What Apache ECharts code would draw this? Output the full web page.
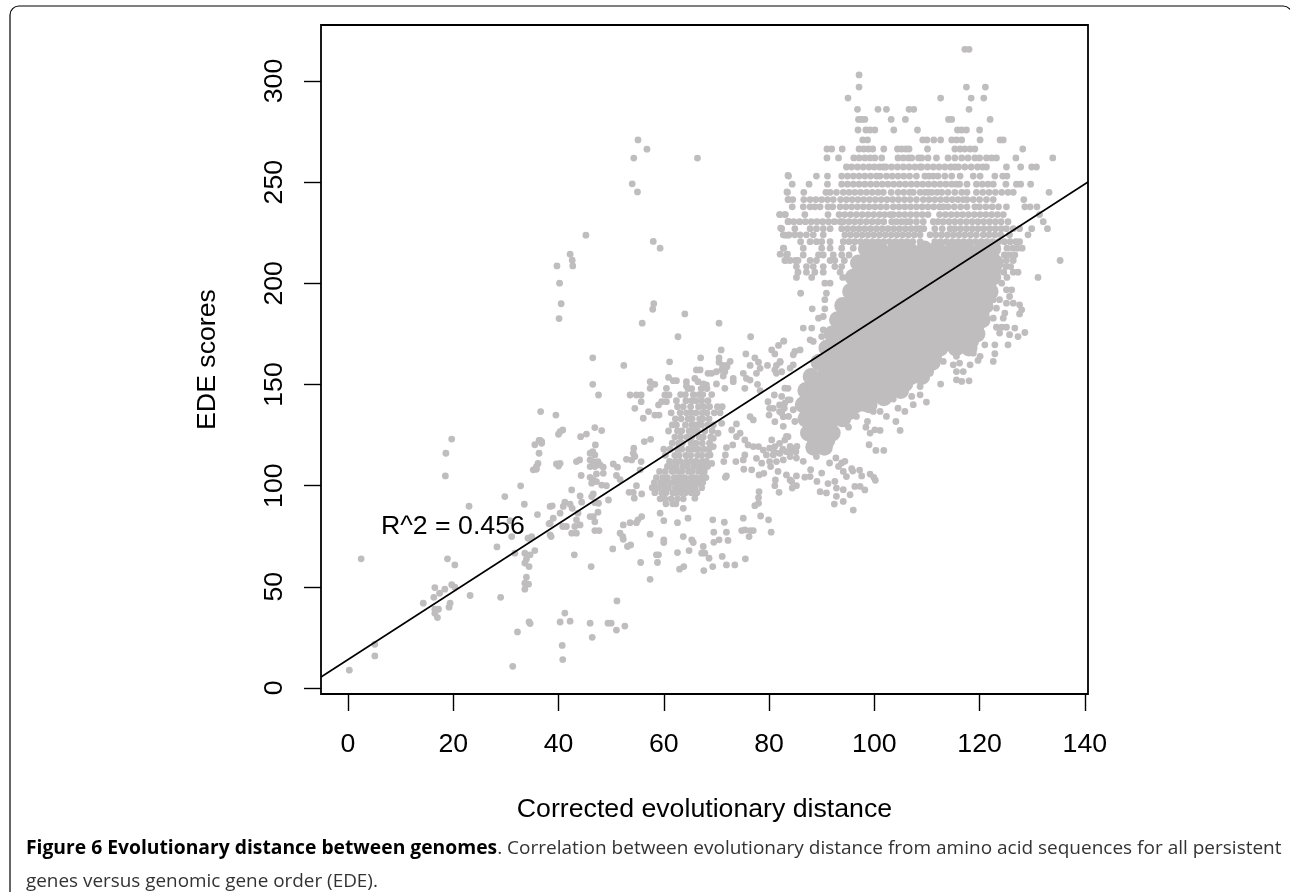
<!DOCTYPE html>
<html>
<head>
<meta charset="utf-8">
<style>html,body{margin:0;padding:0;background:#fff}#chart{width:1290px;height:892px}</style>
<script src="https://cdn.jsdelivr.net/npm/echarts@6/dist/echarts.min.js"></script>
</head>
<body>
<div id="chart"></div>
<script>
const xTicks = [0, 20, 40, 60, 80, 100, 120, 140];
const yTicks = [0, 50, 100, 150, 200, 250, 300];
const fitLine = [[-5.13, 5.4], [140.6, 250.1]];

// scores sit on discrete levels up here: [score, [distances]]
const upperRows = [
  [315.7, [117.2, 118]],
  [303, [97.1]],
  [297, [97.1, 117.5, 121.1]],
  [291.6, [95, 112.6, 118.4, 120.8]],
  [286, [96.8, 100.7, 102.3, 106.6, 107.5, 118]],
  [281, [97, 97.6, 98.2, 103.2, 105.9, 114.1, 114.7, 122]],
  [275.8, [96.9, 98.4, 99.2, 100.1, 103.7, 108.2, 115.8, 116.6, 117.5, 120]],
  [270.9, [97.8, 98.7, 109.2, 110, 111.3, 112.6, 114.7, 115.6, 116.6, 120.1, 123.9, 124.5]],
  [266.4, [91, 91.9, 93.9, 97.1, 98, 98.9, 99.7, 101.8, 104.4, 105.2, 106, 106.6, 110.1, 115.3, 116.3, 117.2, 118.2, 119.1, 128.2]],
  [262, [91, 93.2, 96.1, 97.1, 98.2, 99.2, 100.1, 101.4, 104.5, 105.5, 106.5, 107.1, 108.4, 109, 110.2, 111.8, 114, 115.3, 116.6, 117.8, 119.1, 120, 121.3, 122.3, 123.2, 126.9, 133.9]],
  [257.5, [94.7, 95.7, 96.8, 97.9, 99, 100, 101, 101.7, 102.2, 103.3, 104.4, 105.5, 106.6, 107.7, 108.7, 109, 110.1, 111.2, 112.3, 113.4, 114.5, 115.3, 116, 117.2, 118.4, 119.6, 120.6, 121.3, 125.1, 127.8, 129.9, 130.8]],
  [253, [83.7, 89, 91.1, 93.8, 94.9, 96, 97.1, 98.2, 99.3, 100.4, 101.1, 102.3, 103.4, 104.5, 105.6, 106.7, 108, 109.6, 110.4, 111.2, 112.1, 113.4, 114.7, 116.3, 118.8, 120.1, 122.9, 124.4, 125.2]],
  [249, [84.4, 87.6, 91.1, 93.8, 94.9, 96, 97.1, 98.2, 99.3, 100.4, 101.5, 102.6, 103.7, 104.8, 105.9, 107, 108.1, 109.2, 110.3, 111.4, 112.5, 113.6, 114.7, 115.6, 116.2, 117.6, 119.4, 120.5, 121.6, 122.6, 125, 127, 127.8, 129.7]],
  [245, [83.5, 86.6, 90.8, 91.6, 92.8, 94.1, 95.2, 96.3, 97.4, 98.5, 99.6, 100.7, 101.7, 103.2, 104.5, 105.6, 106.7, 107.4, 108.7, 109.6, 110.2, 110.9, 111.9, 112.8, 114, 115.3, 116.6, 117.6, 119.4, 120.6, 121.8, 123, 124.2, 125.4, 126.4, 133.2]],
  [241.4, [83.7, 84.5, 86.6, 87.8, 88.9, 90, 91.1, 92.2, 93.6, 94.7, 95.8, 96.9, 98, 99.1, 100.2, 101.3, 102.4, 103.5, 104.6, 105.7, 106.8, 108, 109.3, 110.4, 111.5, 112.6, 113.7, 114.8, 115.9, 116.9, 117.6, 118.8, 120, 121.3, 122.6, 128.4]],
  [237.8, [84.4, 86.5, 87.8, 88.7, 89.7, 91.2, 92.1, 93.5, 94.6, 95.7, 96.8, 97.9, 99, 100.1, 101.2, 102.3, 103.6, 104.7, 105.8, 106.9, 108, 109.1, 110.2, 111.3, 112.4, 113.1, 114, 115.2, 116.4, 117.6, 119.1, 120, 121.2, 122.4, 123.6, 125.1, 128.6, 129.6, 130.9]],
  [234, [82, 83, 86.8, 91.2, 93.3, 94.4, 95.5, 96.6, 97.7, 98.8, 99.9, 101, 102, 103, 103.6, 104.7, 105.8, 106.9, 108, 109.1, 110.2, 112.4, 113.5, 114.6, 115.7, 116.8, 117.9, 119, 120.1, 121.2, 122.3, 123.4, 124.5, 131.4]],
  [230.5, [83.6, 84.7, 85.8, 86.9, 88, 89.1, 90.2, 91.3, 92.4, 93.5, 94.1, 95.2, 96.3, 97.4, 98.5, 99.6, 100.7, 101.8, 103.3, 104.2, 105.2, 106.1, 106.8, 108, 109.3, 111.2, 112.1, 113.1, 114.2, 115.3, 116.4, 117.5, 118.6, 119.7, 120.8, 121.9, 123, 124.1, 125.4, 132.1]],
  [227, [82.4, 84.9, 87.8, 89, 90.3, 91.6, 93.8, 94.9, 96, 97.1, 98.2, 99.3, 100.4, 101.5, 102.6, 103.7, 104.8, 105.9, 107, 108, 108.7, 109.4, 111.5, 112.9, 114.4, 115.3, 116.4, 117.5, 118.6, 119.7, 120.8, 121.9, 123, 124.1, 125.1, 126.4, 127.6, 129.9, 132.9]],
  [224, [82.7, 83.8, 84.9, 85.9, 87.1, 88.4, 90.3, 94.4, 95.5, 96.6, 97.7, 98.8, 99.9, 101, 102.1, 103.2, 104.3, 105.4, 106.5, 107.6, 108.7, 110.6, 111.7, 112.8, 113.9, 115, 116.1, 117.2, 118.3, 119.4, 120.7, 121.8, 122.9, 124, 125.7, 129.2]],
  [220.6, [86, 87.8, 89, 90, 91.6, 94.1, 95.2, 96.3, 97.4, 98.5, 99.6, 100.7, 101.8, 102.9, 104, 105.1, 106.2, 107.3, 108.7, 111.5, 112.6, 113.7, 114.8, 115.9, 117, 118.1, 119.2, 120.3, 121.4, 122.5, 123.6, 124.7, 125.8, 126.9, 127.6]],
  [217.4, [82.7, 86.5, 90, 91.6, 93.8, 96, 125.2, 126.3, 127.2, 128.1]],
  [214, [83.3, 86.5, 89.4, 90.3, 92.2, 93.8, 95.2, 124.7, 125.7, 126.7]],
  [211.3, [83, 84, 85, 85.5, 87.8, 89, 91.6, 92.5, 94.3, 125.1, 126.4, 135.3]],
  [208.3, [85.2, 87.1, 88.4, 90.3, 92.5, 93.8, 125, 125.9]],
  [205.5, [85.5, 87.1, 88.7, 90.3, 93.5, 124.6, 126.4, 127.3]],
  [202.9, [85.2, 88.1, 94, 125.2, 131.1]]
];

// sparse points and edges of the clouds: [distance, score]
const loosePoints = [
  [0.25,8.8],[5.1,15.8],[5.1,21.6],[2.5,63.8],[31.3,10.7],[32.2,27.7],[34.6,31.8],[23.2,45.7],[29,44.8],
  [14.3,41.9],[16.3,44.8],[16.5,49.6],[17.4,46.8],[18.4,48.8],[19.7,51],[20.3,49.8],[19.4,41.9],[19.2,39.9],
  [16.5,38.9],[17.2,38.9],[16.5,36.9],[17,34.8],[18.9,63.8],[20.3,60.8],[18.5,104.8],[18.6,116],[19.7,123],
  [23,89.8],[28.3,69.7],[29.8,94.6],[32.8,99.9],[33.5,90.8],[36,85.7],[30.8,82.7],[31.1,74.8],[34.2,74],[34.9,74.8],
  [31.7,66.6],[33.6,66.6],[34.6,65.8],[35.5,67.9],[33.9,63.6],[33.6,61.7],[34.4,60],[33.9,54.7],[33.6,51.8],[34.3,51.3],[33.6,48.8],
  [38.4,89.7],[38.2,81.1],[38.4,75.7],[36.6,136.6],[36.3,122.3],[36.5,122.3],[35.5,120.2],[36.8,121.8],[36.3,116],[36.1,111],
  [35.8,109.4],[35.2,107.8],[35.8,108.1],[39.5,134.9],[40.3,126.7],[40.8,127.5],[40,125.4],[44.2,124.2],[45.3,125.5],
  [46.9,128.7],[48.2,127.2],[47,120.1],[46,116],[46.5,116.8],[46.9,115.2],[44,112.7],[43.4,111.9],[36.8,120.9],
  [39.6,110.7],[40.3,111],[40,109.7],[46,112.7],[46.6,111.9],[46,109.4],[47.5,111.9],[47.9,110.2],[48.5,109.1],[46.9,109.4],
  [44.3,105],[48.5,106.1],[47.2,105.8],[46,104.1],[46.6,102.8],[46.3,101.2],[47.2,102],[50.4,110.7],[51.2,109.1],[51,105],[51.7,103],
  [52.9,113],[53.9,112.7],[54.5,114.4],[54.3,118.5],[54.2,116],[55.7,111.9],[56.3,121.8],[57.5,122.9],[55.5,107.8],
  [48.2,100.3],[49.1,100],[54.8,100],[53.4,96.7],[54.2,96.7],[54.4,93.8],[55.8,95.9],[49.5,92.9],[42.5,97.9],[44.1,94.9],[44.4,91.8],
  [46.6,95.9],[46.3,94.6],[46.9,91.6],[47.6,91.3],[38.8,90],[41.2,91.8],[40.9,89.7],[42.2,90.8],[42.6,88.8],[40.3,86.4],[39,83.9],[38.4,81.4],
  [43.7,86.4],[43.4,83.1],[43.1,79.8],[44.1,80.6],[42.5,76.5],[43.4,76.5],[40.8,79.8],[41.5,79.8],[38.6,74.8],[46.6,84.7],[47.5,86.9],[46.9,82.2],[46,84.7],
  [46.9,77.8],[47.7,77.8],[52.3,80.6],[53.6,81.7],[54.8,81.7],[55.8,84.7],[55.1,83.1],[51.7,76.5],[52.2,74.8],[52.3,73.5],[53.1,69.9],[53.7,70.7],[50.3,68.7],
  [57.4,76],[60,73.2],[60,71.9],[63.7,74.8],[65.3,73.2],[65.6,71.9],[62.6,66.9],[64.8,67.9],[58.6,65.8],[59,65.8],[58.8,62],[55.6,62],[67.5,69.9],[67.2,66.6],[67.8,66.6],[68.6,64.1],
  [63,58.7],[63.8,60],[67.6,58],[69.3,60],[71.1,65],[71.9,60.8],[73.5,60.8],[75.5,63.8],[57.4,53.7],[46.2,60],[43,65.8],
  [41.2,37],[42.2,33],[40.3,32.6],[40.7,21],[40.8,14],[34.4,32.6],[46,32],[46.4,25],[49.4,32],[50,32],[51,28.6],[51.1,43],[52.6,30.6],
  [69.3,83.1],[71.5,81.9],[69.5,77],[71.9,77],[72.2,72.9],[70.5,73.2],[69.5,72],[75.1,83.9],[74.8,77.8],[75.4,78.1],[76.4,77.8],[77,77.8],[76.2,74.8],[78.4,85],[79.9,83.1],[80.4,77],
  [77.3,90.1],[78,91.3],[78,94.1],[78.1,97],[81.9,96.7],[81.1,100],[81.2,102.8],[71.9,104.8],[71.7,104.1],[71.4,111.9],[73.7,111.9],[71.7,115.2],[71.9,118.8],[73.1,120.1],
  [74.5,125.9],[73.8,124.2],[73.8,130.5],[72.9,127.5],[70.3,125.9],[71,130.8],[69.4,123.4],[69.4,119.3],[68.8,115.2],[69.1,111],[67.5,106],[66.2,101.2],[65.9,93.8],[63.7,88.8],[64.6,83.9],[62.6,81.7],[60,82.7],[59.3,86.4],
  [46.5,163.2],[52.4,159.4],[61.1,161.2],[67,163.2],[46.5,150.1],[47.6,144.8],[53.6,144.8],[54.8,144.8],[55.7,144.8],[55.7,141.5],[54.5,138.2],[57.1,136.6],[56.1,133.3],[58.3,134.9],[59.1,134.9],[59,139.9],[59.6,141.5],
  [60.5,141.5],[60.2,144.8],[61,144.8],[60.5,148.1],[57.4,151.4],[58.3,150.1],[57.4,148.1],[60.9,153.5],[61.8,151.9],[62.4,151.9],[64.3,151.4],[64.3,149.3],[65.9,153],[66.5,151.4],[67.5,150.3],[68.1,149.8],[66.2,157.2],[66.9,157.2],[68.4,155.5],[69.1,155.5],
  [70.9,167.1],[70.5,163.2],[70.5,161],[72.6,161.4],[71.2,159.4],[72,159.4],[70,156.3],[71,157.2],[71.6,156.3],[72,158.8],[71.3,154.2],[73.2,153],[73.2,151.4],[70,150.3],[71.6,148.1],
  [75.6,165.1],[77.3,163.2],[78,161],[78.3,158],[77.6,155.5],[76.4,159.4],[75.1,155.5],[75.7,153],[76.4,152.2],[75.4,148.1],[79.7,159.4],[80.5,167.1],[81.1,165.1],[81.8,169.3],[82.8,171.4],[82.1,161],[81.4,159.4],[81.1,157.2],[82.4,156.3],[81.4,155.5],
  [77.8,150.1],[78.3,147],[79.8,141.5],[81,144.8],[80.8,138.2],[82,139.9],[80.1,138.2],[82.9,138.2],[82,136.6],[80,134.9],[82.7,134.1],[81.1,131.6],[76.4,134.1],[77,132.5],[83.6,148.1],[83.6,142.4],
  [62.7,173.6],[76.5,173.6],[70.5,180.3],[55.9,180.3],[64,184.9],[58.1,189.9],[57.9,187.2],[40.5,189.9],[40.1,182.6],[40.2,200.1],[39.7,208.6],[42.7,208.6],[42.6,211.4],[42.2,214.4],[45.2,223.8],[58,220.7],[59.3,217.4],[55,245.2],[54,249.2],[66.4,261.9],[54.3,261.9],[56.8,266.3],[55.1,270.9],
  [83.6,253.3],[83.4,245.2],[83.6,241.4],[82.1,234],[83.1,234],[83.7,230.6],[82.2,227.3],[83.1,223.8],[83.7,223.8],[82.8,217.4],[82.1,214.4],[83.5,214.4],[83.3,211.4],
  [75.4,122.6],[76,120.1],[77,119.3],[78,119.3],[78.9,117.6],[80.1,118.5],[81.1,119.3],[82,120.9],[83,122.6],[83.6,124.2],[80.5,122.6],[79.5,115.2],[80.8,115.2],[82,116],[83.3,116.8],[84,114.4],[82.7,112.7],[81.4,111.9],[80.1,111.9],[78.6,111.1],[77.6,113.5],[75.4,115.2],[75.1,112.7],[75.2,108.1],[76.7,107.8],[78.1,105.3],[79,106.1],[80.3,109.4],[81.7,107],[83.3,105.3],[84,102.8],[81,116.4],[82.6,118],[84.3,118.5],[85.3,119.4],[85.1,116.8],
  [91.5,111.2],[92.7,113.7],[93.8,111.2],[94.4,112],[93.2,109.5],[94.1,107],[94.7,104.5],[95.7,108.4],[97.2,107.7],[95.9,107.2],[97.6,104.8],[99.2,105.7],[99.9,104.1],[100.2,102.6],[87.9,107.9],[90,106.2],[87.8,104.5],[89.1,102.1],[86.8,104.2],[85.2,100],[84.3,102],[85.2,104.8],[84.4,98.8],
  [89.7,97],[90.9,96.4],[91.2,101],[92.5,102.1],[92.8,98.8],[94.1,98],[95.4,95.5],[96.3,99.6],[97.3,99.6],[98.2,97.9],[92.8,94.7],[94.1,92.2],[92.4,90.9],[96,87.9],
  [124.2,200.1],[125.1,196.8],[126.1,196.8],[125.7,193.5],[122.6,191.9],[123.8,191.9],[125.1,190.2],[126.4,190.2],[127.6,189.4],[128,186.9],[121.9,187.7],[123.2,187.7],[124.8,185.3],[124.5,182.8],[122.6,182.8],[127.6,184.9],[123.2,178.3],[124.2,178.3],[125.1,178.3],[126.7,177.9],[123.8,175.4],[125.7,174.6],[127.3,173.7],[128.6,175.7],
  [122.9,169.6],[121,169.6],[125.4,169.6],[122.9,165.2],[122.6,161.4],[119.7,161.9],[118.2,159.7],[120.1,163.9],[116.9,167.1],[118.8,165.5],[115.6,163.9],[115,159.7],[116.2,160.6],[115.6,156.4],[116.9,156.4],[115.6,152.3],[116.6,151.5],[118,151.8],[112.6,150.2],
  [109.9,141.3],[107.4,140],[108.7,144.9],[107.1,144.1],[105.8,136.7],[104.5,138.3],[104.1,131.7],[104.9,127.3],[101.1,127.3],[100.1,127.6],[99.2,126],[98.4,128.9],[98.7,131.7],[99,120.2],[100.3,117.4],[101.8,117.4],[95.1,128.9],[92.2,127.6],[90.9,121.9],[89,114.4],[86.5,112],[85.2,113.6],[84,116.1],
  [108.7,149],[110.6,155.6],[113.1,161.4],[103.6,142.8],[102.3,134.2],[101.1,136.7],[99.8,136.7],[97.9,138.3],[96.6,134.2],[94.1,130.9],
  [86,195.1],[88.2,187.4],[90.6,200.1],[91.6,200.1],[90.9,195.1],[90.6,191.9],[90.6,187.4],[89.4,182.8],[90.3,183.6],[86.5,177.9],[88.1,177.9],[90.3,177],[87.8,172.1],[88.4,171.3],[90,173.7],[82.8,171.6],[84.9,166.3],[85.9,167.1],[84.6,164.7],[82.1,161.4],[84.6,159.7],[84,158.1],[83,148.2],[82.4,144.1],[83,140.8],[84,142.4],[84.6,137.5],[82.4,135.9],[83.7,134.2],[84.9,131.7],[82.7,129.3],[83.3,124.3],[84,119.4],[82.1,116.1]
];

// the packed cloud around distance 65: rows of [score, [distances]]
const midRows = [
  [91, [60.4, 61.7, 62.3]],
  [93.5, [59.3, 60.2, 61.4, 62.6, 63.7]],
  [96.5, [58.3, 59.6, 60.4, 61.7, 62.4, 63.3, 64.1, 65.2, 66.3]],
  [99, [57.8, 58.9, 60.1, 60.9, 62.2, 63.1, 63.9, 65, 65.9, 67.2]],
  [101.5, [58.2, 59.4, 60.3, 61.4, 62.5, 63.6, 64.4, 65.5, 66.6, 67.4]],
  [104, [58.6, 59.8, 60.7, 62, 63, 64, 65.2, 66, 67.1, 68]],
  [107, [59.2, 60.3, 61.6, 62.7, 63.4, 64.7, 65.4, 66.6, 67.7]],
  [109.5, [60.7, 61.4, 62.4, 63.7, 64.5, 65.7, 66.8, 67.5, 68.3]],
  [112, [61.1, 62.2, 63.1, 64.3, 65.2, 66.1, 67.3, 68.1]],
  [115, [60.3, 62.1, 62.9, 64.2, 65.1, 66.4, 67.2, 68.4]],
  [118, [60, 61.2, 62.6, 63.4, 64.7, 65.6, 66.5, 67.6, 68.6]],
  [121, [61.6, 62.8, 63.5, 65.2, 66.1, 67.3, 68.7]],
  [124, [62.1, 63.2, 64.4, 65.3, 66.7, 67.5, 68.9]],
  [127, [60.9, 62.6, 63.4, 64.8, 65.7, 66.4, 67.8, 69.2]],
  [130, [61.6, 62.4, 64.1, 65.3, 66.2, 67.1, 68.3, 69.4]],
  [133, [62.2, 63.3, 64.6, 65.4, 66.8, 67.4, 68.6]],
  [136, [61.4, 63.1, 64.3, 65.2, 66.1, 67.3, 68.2, 69.6, 70.7]],
  [139, [62.6, 63.7, 65.1, 66.6, 67.6, 68.7, 70.2, 71.1]],
  [142, [62.4, 64.2, 65.3, 66.1, 67.2, 68.4]],
  [145, [63.2, 64.1, 65.6, 66.7, 67.4, 69.1]],
  [148, [64.6, 65.3, 67.1, 68.2]]
];

// big cloud, too overplotted to separate single dots: [score, [distances]]
const coreRows = [
  [217, [98.5, 101, 104, 106.5, 109.5, 112, 115, 117.5, 120.5, 122.5]],
  [213.5, [99.5, 102.5, 105, 108, 110.5, 113.5, 116, 119, 121.5]],
  [210, [97, 100, 102.5, 105.5, 108, 111, 113.5, 116.5, 119, 121.5, 123]],
  [206.5, [98, 101, 103.5, 106.5, 109, 112, 114.5, 117.5, 120, 122.5]],
  [203, [96, 98.5, 101.5, 104, 107, 109.5, 112.5, 115, 118, 120.5, 122.5]],
  [199.5, [97, 100, 102.5, 105.5, 108, 111, 113.5, 116.5, 119, 121.5]],
  [196, [95.5, 98, 101, 103.5, 106.5, 109, 112, 114.5, 117.5, 120, 122]],
  [192.5, [96.7, 99.3, 102.2, 104.8, 107.7, 110.3, 113.2, 115.8, 118.7, 121.2]],
  [189, [94, 97, 99.5, 102.5, 105, 108, 110.5, 113.5, 116, 119, 121]],
  [185.5, [95.5, 98.3, 101, 103.8, 106.5, 109.3, 112, 114.8, 117.5, 120.3]],
  [182, [93, 96, 98.5, 101.5, 104, 107, 109.5, 112.5, 115, 118, 120.5]],
  [178.5, [94.5, 97.3, 100, 102.8, 105.5, 108.3, 111, 113.8, 116.5, 119.3]],
  [175, [92, 95, 97.5, 100.5, 103, 106, 108.5, 111.5, 114, 117, 119.5]],
  [171.5, [93.5, 96.3, 99, 101.8, 104.5, 107.3, 110, 112.8, 115.5, 118.3]],
  [168, [91, 93.5, 96.5, 99, 102, 104.5, 107.5, 110, 112.5, 115.5, 118]],
  [164.5, [92.2, 95, 97.8, 100.5, 103.2, 106, 108.8, 111.3]],
  [161, [89.5, 92, 95, 97.5, 100.5, 103, 106, 108.5, 111]],
  [157.5, [90.8, 93.5, 96.2, 99, 101.8, 104.5, 107.2, 109.8]],
  [154, [88, 91, 93.5, 96.5, 99, 102, 104.5, 107, 109]],
  [150.5, [89.5, 92.2, 95, 97.5, 100.2, 103.2, 105.8]],
  [147, [87, 89.5, 92.5, 95, 98, 100.5, 103, 105]],
  [143.5, [88.2, 91, 93.7, 96.5, 99.2, 101.8]],
  [140, [86.5, 89, 91.5, 94, 96.5, 99]],
  [136.5, [87.7, 90.2, 92.8, 95.2]],
  [133, [87, 89.5, 92, 94]],
  [129.5, [88.2, 90.8]],
  [126, [87.5, 90, 92]],
  [122.5, [88.8, 91]],
  [119, [88.5, 90.5]]
];

const expand = rows => rows.flatMap(([score, dists]) => dists.map(d => [d, score]));
const dotColor = '#bfbdbe';
const sans = '"Liberation Sans", Arial, sans-serif';
const caption = '"Open Sans", sans-serif';

const chart = echarts.init(document.getElementById('chart'), null, { renderer: 'canvas' });
chart.setOption({
  animation: false,
  backgroundColor: '#fff',
  grid: {
    left: 321, right: 202, top: 25, bottom: 198,
    show: true, borderColor: '#000', borderWidth: 1.8, backgroundColor: 'transparent'
  },
  xAxis: {
    type: 'value', min: -5.13, max: 140.6,
    splitLine: { show: false },
    axisLine: { show: false, onZero: false },
    axisTick: { show: true, length: 17, customValues: xTicks, lineStyle: { color: '#000', width: 1.4 } },
    axisLabel: { customValues: xTicks, color: '#000', fontFamily: sans, fontSize: 26.7, margin: 37 },
    name: 'Corrected evolutionary distance',
    nameLocation: 'middle', nameGap: 102,
    nameTextStyle: { color: '#000', fontFamily: sans, fontSize: 26.7 }
  },
  yAxis: {
    type: 'value', min: -3, max: 327.7,
    splitLine: { show: false },
    axisLine: { show: false, onZero: false },
    axisTick: { show: true, length: 17, customValues: yTicks, lineStyle: { color: '#000', width: 1.4 } },
    axisLabel: { customValues: yTicks, rotate: 90, color: '#000', fontFamily: sans, fontSize: 26.7, margin: 33 },
    name: 'EDE scores',
    nameLocation: 'middle', nameGap: 100,
    nameTextStyle: { color: '#000', fontFamily: sans, fontSize: 26.7 }
  },
  series: [
    { type: 'scatter', data: expand(coreRows), symbolSize: 17, itemStyle: { color: dotColor, opacity: 1 }, z: 2, silent: true },
    { type: 'scatter', data: expand(upperRows).concat(expand(midRows), loosePoints), symbolSize: 6.8, itemStyle: { color: dotColor, opacity: 1 }, z: 2 },
    { type: 'line', data: fitLine, symbol: 'none', lineStyle: { color: '#000', width: 1.6 }, z: 3 }
  ],
  graphic: [
    { type: 'rect', z: 0, shape: { x: 10, y: 6, width: 1282, height: 900, r: 9 }, style: { fill: 'none', stroke: '#000', lineWidth: 1.2 } },
    { type: 'text', z: 5, x: 381, y: 527, style: { text: 'R^2 = 0.456', font: '26.7px ' + sans, fill: '#000', verticalAlign: 'middle' } },
    { type: 'text', z: 5, x: 26, y: 849, style: {
      text: '{b|Figure 6 Evolutionary distance between genomes}{r|. Correlation between evolutionary distance from amino acid sequences for all persistent}',
      verticalAlign: 'middle',
      rich: {
        b: { font: 'bold 19.3px ' + caption, fill: '#000' },
        r: { font: '19px ' + caption, fill: '#333' }
      }
    } },
    { type: 'text', z: 5, x: 26, y: 882, style: { text: 'genes versus genomic gene order (EDE).', font: '18.9px ' + caption, fill: '#333', verticalAlign: 'middle' } }
  ]
});
</script>
</body>
</html>
